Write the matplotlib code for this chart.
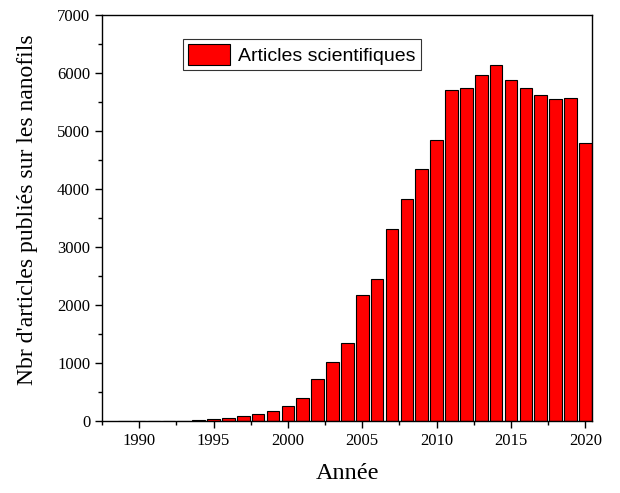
import matplotlib
matplotlib.use("Agg")
import matplotlib.pyplot as plt
from matplotlib.ticker import MultipleLocator

years = list(range(1989, 2021))
articles = [2, 3, 3, 4, 6, 12, 30, 55, 85, 120, 180, 265, 390, 720, 1015, 1340,
            2180, 2440, 3310, 3830, 4340, 4850, 5707, 5747, 5965, 6130, 5875,
            5747, 5626, 5545, 5570, 4800]

serif = ["Liberation Serif", "DejaVu Serif"]

fig = plt.figure(figsize=(6.2, 4.93), dpi=100)
ax = fig.add_axes([0.1645, 0.146, 0.7905, 0.8236])

ax.bar(years, articles, width=0.85, color="#ff0000", edgecolor="black",
       linewidth=0.8, label="Articles scientifiques")

ax.set_xlim(1987.5, 2020.45)
ax.set_ylim(0, 7000)
ax.xaxis.set_major_locator(MultipleLocator(5))
ax.xaxis.set_minor_locator(MultipleLocator(2.5))
ax.yaxis.set_major_locator(MultipleLocator(1000))
ax.yaxis.set_minor_locator(MultipleLocator(500))
ax.tick_params(which="major", direction="out", length=5, width=1, labelsize=12)
ax.tick_params(which="minor", direction="out", length=3, width=1)
for lab in ax.get_xticklabels() + ax.get_yticklabels():
    lab.set_family(serif)
for sp in ax.spines.values():
    sp.set_linewidth(1)

ax.set_xlabel("Année", family=serif, fontsize=17.5, labelpad=10)
ax.set_ylabel("Nbr d'articles publiés sur les nanofils", family=serif,
              fontsize=17)
ax.yaxis.set_label_coords(-0.13, 0.52)

leg = ax.legend(loc="upper left", bbox_to_anchor=(0.145, 0.965), frameon=True,
                fancybox=False, edgecolor="black", handlelength=2.2,
                handleheight=1.3, borderpad=0.25, handletextpad=0.4,
                prop={"family": ["Liberation Sans", "DejaVu Sans"], "size": 14})
leg.get_frame().set_linewidth(0.8)

fig.savefig("out.png", dpi=100)
